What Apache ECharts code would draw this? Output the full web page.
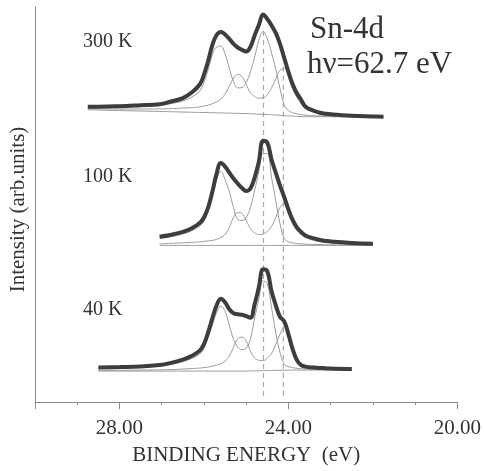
<!DOCTYPE html>
<html>
<head>
<meta charset="utf-8">
<title>Sn-4d</title>
<script src="https://cdn.jsdelivr.net/npm/echarts@6/dist/echarts.min.js"></script>
<style>
  html, body { margin: 0; padding: 0; background: #fff; }
  #main { width: 484px; height: 471px; }
</style>
</head>
<body>
<div id="main"></div>
<script>
// binding energy grid (eV), shared by the three spectra
var energy = [28.75, 28.5, 28.0, 27.5, 27.05, 26.8, 26.5, 26.3, 26.1, 26.0,
              25.9, 25.8, 25.7, 25.6, 25.5, 25.4, 25.3, 25.2, 25.1, 25.0,
              24.9, 24.8, 24.7, 24.6, 24.5, 24.4, 24.3, 24.2, 24.1, 24.0,
              23.9, 23.8, 23.7, 23.6, 23.4, 23.2, 23.0, 22.5, 22.0, 21.75];

// 300 K : background level, then total / bulk doublet / surface doublet above it
var bg300 = [293, 292.7, 292.2, 291.7, 291.3, 291, 290.7, 290.5, 290.3, 290.2,
             290.1, 290, 289.9, 289.8, 289.7, 289.6, 289.5, 289.4, 289.3, 289.2,
             289, 288.8, 288.6, 288.4, 288.2, 288, 287.7, 287.4, 287.1, 286.8,
             286.6, 286.4, 286.2, 286.1, 286, 286, 286, 286, 286, 286];
var total300 = [3, 3.3, 4.3, 5.8, 7.2, 10, 14, 19.5, 28, 38,
                51.9, 68, 78, 81.2, 78.8, 74.4, 69.5, 66, 63.7, 62.3,
                67, 78.7, 89.4, 100, 95.8, 89.5, 82.3, 71.6, 57.9, 44.2,
                31.9, 23.1, 16.8, 10.2, 6, 3.5, 2.5, 1, 0.3, 0];
var bulk300 = [2.5, 2.8, 3.5, 4.5, 6, 8, 11, 15, 21.5, 30,
               43, 58, 66, 67, 59, 45, 32, 25.5, 26, 31,
               42, 57, 74, 83, 76, 62, 46, 27, 11, 5.5,
               3.5, 2.5, 2, 1.5, 1, 0.6, 0.4, 0.2, 0.1, 0];
var surf300 = [1, 1.2, 1.5, 2, 2.5, 3, 4, 4.5, 5.5, 6.5,
               7.5, 9, 11, 14, 19, 27, 35, 39, 37, 29,
               21, 17.5, 16, 16.5, 20, 27, 36, 45, 47.5, 39,
               27, 19, 13, 8, 4.5, 2, 1, 0.3, 0.1, 0];

// 100 K
var bg100 = [null, null, null, null, 157, 157, 157, 157, 157, 157,
             157, 157, 157, 157, 157, 157, 157, 157, 157, 157,
             157, 157, 157, 157, 157, 157, 157, 157, 157, 157,
             157, 157, 157, 157, 157, 157, 157, 157, 157, null];
var total100 = [null, null, null, null, 8.7, 10.5, 13.5, 17, 22.5, 28,
                38, 54, 72, 82.5, 79, 73, 67, 62, 57.5, 54.5,
                57, 68, 84, 105, 103, 86, 73, 60, 48.5, 36,
                25.5, 18, 13.5, 10, 7, 5, 4, 2.5, 1.7, null];
var bulk100 = [null, null, null, null, 7, 8.5, 11.5, 14.5, 19.5, 24.5,
               34, 49, 66, 74, 66, 54, 38, 26, 25, 28,
               38, 55, 74, 92, 92, 68, 45, 22, 7, 3.5,
               2.5, 2, 1.5, 1.2, 1, 0.8, 0.6, 0.4, 0.3, null];
var surf100 = [null, null, null, null, 1.5, 2, 2.5, 3, 3.5, 4,
               4.5, 5, 6, 8, 11, 18, 28, 33, 32, 25,
               17, 12.5, 11, 11.5, 14, 19, 28, 38, 41.5, 32,
               22, 15, 11, 8, 5, 3.5, 2.5, 1.2, 0.6, null];

// 40 K
var bg40 = [null, 31, 31, 31, 31, 31, 31, 31, 31, 31,
            31, 31, 31, 31, 31, 31, 31, 31, 31, 31,
            31.1, 31.2, 31.3, 31.4, 31.5, 31.6, 31.7, 31.8, 31.9, 32,
            32, 32, 32, 32, 32, 32, 32, 32, null, null];
var total40 = [null, 3.7, 4, 4.5, 6, 8, 11.5, 15, 20.5, 27,
               39, 53, 66, 72.5, 69, 62, 58, 57, 56.5, 55,
               53.4, 66.8, 83.7, 101.6, 99.5, 79.4, 65.3, 53.7, 49, 36,
               21, 10, 5, 3.5, 2.5, 2, 1.5, 1, null, null];
var bulk40 = [null, 3, 3.3, 3.7, 5, 6.5, 9.5, 12.5, 17, 23,
              34, 46, 59, 65, 60, 46, 32, 24, 21.5, 23,
              32, 53, 72, 90, 87, 63, 38, 18, 6, 3.5,
              2.5, 1.8, 1.3, 1, 0.8, 0.6, 0.5, 0.3, null, null];
var surf40 = [null, 0.7, 0.8, 1, 1.2, 1.5, 2, 2.5, 3, 3.5,
              4, 5, 6, 7.5, 10, 15, 24, 32.5, 34, 30,
              20, 13, 10.5, 10, 12.5, 17, 26, 36, 44, 32,
              18, 9, 4.5, 3, 1.8, 1.3, 1, 0.6, null, null];

// dashed guide lines (eV) and where they start
var dashEnergy = [24.59, 24.12];
var dashTop = [372, 336];
var dashBottom = 4;

// tick labels shown on the energy axis
var shownTicks = [28, 24, 20];

var spectra = [
  { bg: bg300, total: total300, bulk: bulk300, surf: surf300 },
  { bg: bg100, total: total100, bulk: bulk100, surf: surf100 },
  { bg: bg40, total: total40, bulk: bulk40, surf: surf40 }
];

function points(bg, h) {
  var out = [];
  energy.forEach(function (e, i) {
    if (bg[i] == null) return;
    out.push([e, h ? bg[i] + h[i] : bg[i]]);
  });
  return out;
}

var serif = 'Liberation Serif, Times New Roman, serif';
var textColor = '#333';
var series = [];

dashEnergy.forEach(function (e, i) {
  series.push({
    type: 'line', silent: true, symbol: 'none', z: 1,
    data: [[e, dashTop[i]], [e, dashBottom]],
    lineStyle: { color: '#aaa', width: 1.2, type: [5, 4] }
  });
});

spectra.forEach(function (s) {
  [null, s.bulk, s.surf].forEach(function (h) {
    series.push({
      type: 'line', silent: true, symbol: 'none', smooth: 0.4, z: 2,
      data: points(s.bg, h),
      lineStyle: { color: '#9a9a9a', width: 1 }
    });
  });
  series.push({
    type: 'line', silent: true, symbol: 'none', smooth: 0.4, z: 3,
    data: points(s.bg, s.total),
    lineStyle: { color: '#3d3d3d', width: 4 }
  });
});

var chart = echarts.init(document.getElementById('main'));
chart.setOption({
  animation: false,
  grid: { left: 33, right: 26, top: 7, bottom: 68 },
  xAxis: {
    type: 'value', min: 20, max: 30, interval: 4, inverse: true,
    splitLine: { show: false },
    axisLine: { lineStyle: { color: '#8c8c8c', width: 1 } },
    axisTick: { length: 7, lineStyle: { color: '#8c8c8c' } },
    minorTick: { show: true, splitNumber: 4, length: 3, lineStyle: { color: '#8c8c8c' } },
    axisLabel: {
      margin: 16, fontFamily: serif, fontSize: 21, color: textColor,
      formatter: function (v) { return shownTicks.indexOf(v) >= 0 ? v.toFixed(2) : ''; }
    },
    name: 'BINDING ENERGY  (eV)', nameLocation: 'middle', nameGap: 43,
    nameTextStyle: { fontFamily: serif, fontSize: 21, color: textColor }
  },
  yAxis: {
    type: 'value', min: 0, max: 396,
    splitLine: { show: false },
    axisTick: { show: false },
    axisLabel: { show: false },
    axisLine: { show: true, lineStyle: { color: '#8c8c8c', width: 1 } },
    name: 'Intensity (arb.units)', nameLocation: 'middle', nameGap: 6,
    nameTextStyle: { fontFamily: serif, fontSize: 21, color: textColor, padding: [0, 10, 0, 0] }
  },
  graphic: [
    { type: 'text', style: { x: 83, y: 42, text: '300 K', font: '20px ' + serif, fill: textColor, verticalAlign: 'middle' } },
    { type: 'text', style: { x: 83, y: 177, text: '100 K', font: '20px ' + serif, fill: textColor, verticalAlign: 'middle' } },
    { type: 'text', style: { x: 83, y: 310, text: '40 K', font: '20px ' + serif, fill: textColor, verticalAlign: 'middle' } },
    { type: 'text', style: { x: 310, y: 30, text: 'Sn-4d', font: '31px ' + serif, fill: textColor, verticalAlign: 'middle' } },
    { type: 'text', style: { x: 307, y: 65, text: 'h\u03BD=62.7 eV', font: '31px ' + serif, fill: textColor, verticalAlign: 'middle' } }
  ],
  series: series
});
</script>
</body>
</html>
